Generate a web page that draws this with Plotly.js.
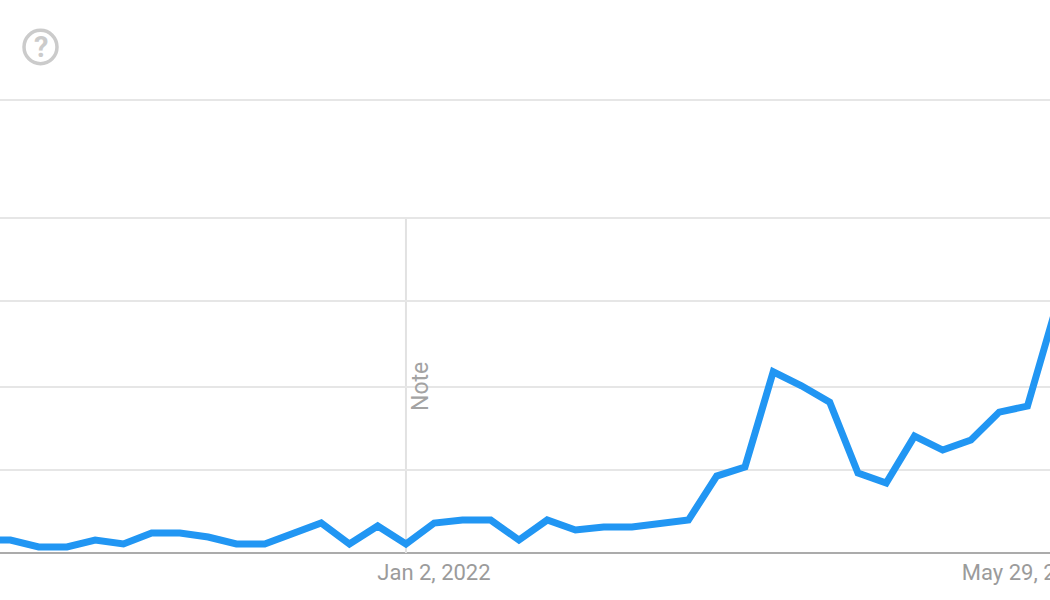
<!DOCTYPE html>
<html><head><meta charset="utf-8">
<script src="https://cdn.plot.ly/plotly-3.0.1.min.js"></script>
<style>html,body{margin:0;padding:0;background:#fff;overflow:hidden}#chart{width:1050px;height:600px}</style>
</head><body><div id="chart"></div>
<script>
const weeks = ["2021-09-19","2021-09-26","2021-10-03","2021-10-10","2021-10-17","2021-10-24","2021-10-31","2021-11-07","2021-11-14","2021-11-21","2021-11-28","2021-12-05","2021-12-12","2021-12-19","2021-12-26","2022-01-02","2022-01-09","2022-01-16","2022-01-23","2022-01-30","2022-02-06","2022-02-13","2022-02-20","2022-02-27","2022-03-06","2022-03-13","2022-03-20","2022-03-27","2022-04-03","2022-04-10","2022-04-17","2022-04-24","2022-05-01","2022-05-08","2022-05-15","2022-05-22","2022-05-29","2022-06-05","2022-06-12"];
const interest = [3.9,3.9,1.8,1.8,3.9,2.7,6,6,4.8,2.7,2.7,6,9,2.7,8.1,2.7,9,9.9,9.9,3.9,9.9,6.9,7.8,7.8,8.7,9.9,23.1,25.8,54.4,50.2,45.3,24,21,35.1,30.9,33.9,42.3,44.1,73.3];
const tickDates = ["2022-01-02","2022-05-29"];
const tickLabels = ["Jan 2, 2022","May 29, 2022"];
const gridValues = [0,24.9,49.85,75.7,100.6,136];
const noteDate = "2022-01-02";
const noteTop = 100.6;

const W = 1050, H = 600, top_ = 95, bottom_ = 47;
const plotH = H - top_ - bottom_;
const px = v => v / W;
const py = v => (H - bottom_ - v) / plotH;

Plotly.newPlot('chart', [{
  type: 'scatter', mode: 'lines', x: weeks, y: interest,
  line: {color: '#2196f3', width: 7, shape: 'linear'}, hoverinfo: 'skip', cliponaxis: true
}], {
  width: W, height: H,
  margin: {l: 0, r: 0, t: top_, b: bottom_, pad: 0},
  paper_bgcolor: '#fff', plot_bgcolor: '#fff', showlegend: false,
  font: {family: 'Roboto, sans-serif'},
  xaxis: {
    type: 'date', range: ['2021-09-23 10:00', '2022-06-10 14:00'],
    tickmode: 'array', tickvals: tickDates, ticktext: tickLabels,
    ticklabelshift: 28, ticklabeloverflow: 'allow', ticks: 'outside', ticklen: 0, tickcolor: 'rgba(0,0,0,0)',
    showgrid: false, zeroline: false, showline: false, automargin: false,
    tickfont: {family: 'Roboto, sans-serif', size: 22, color: '#9b9b9b'}
  },
  yaxis: {
    range: [0, 137.5], tickmode: 'array', tickvals: gridValues, showticklabels: false,
    showgrid: true, gridcolor: '#e6e6e6', gridwidth: 2, zeroline: false, ticks: '', automargin: false
  },
  shapes: [
    {type:'line', xref:'x', yref:'y', x0:noteDate, x1:noteDate, y0:0, y1:noteTop, line:{color:'#e2e2e2', width:2}, layer:'below'},
    {type:'line', xref:'paper', yref:'paper', x0:0, x1:1, y0:0, y1:0, line:{color:'#ababab', width:2}, layer:'below'},
    {type:'circle', xref:'paper', yref:'paper', x0:px(24), x1:px(57), y0:py(63.7), y1:py(30.3), line:{color:'#cbcbcb', width:3.5}}
  ],
  annotations: [
    {xref:'paper', yref:'paper', x:px(420.5), y:py(386.5), text:'Note', textangle:-90, showarrow:false,
     font:{family:'Roboto, sans-serif', size:23, color:'#a3a3a3'}, xanchor:'center', yanchor:'middle'},
    {xref:'paper', yref:'paper', x:px(40.5), y:py(47), text:'<b>?</b>', showarrow:false,
     font:{family:'Roboto, sans-serif', size:29, color:'#cbcbcb'}, xanchor:'center', yanchor:'middle'}
  ]
}, {displayModeBar:false, staticPlot:true});
</script></body></html>
